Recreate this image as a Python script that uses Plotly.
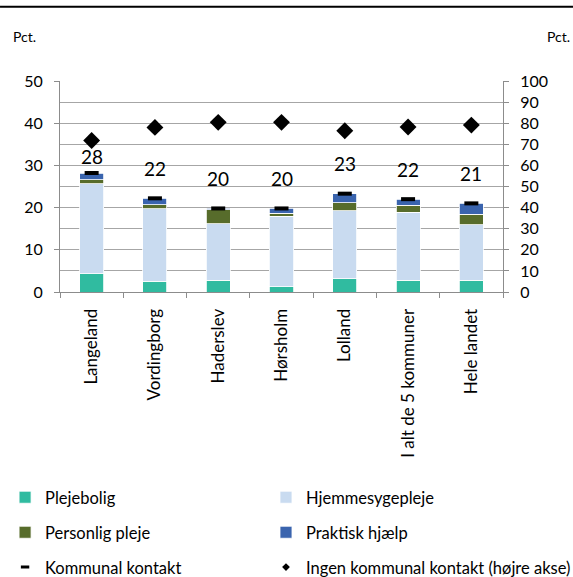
import plotly.graph_objects as go

# Municipalities and country totals
categories = ["Langeland", "Vordingborg", "Haderslev", "Hørsholm", "Lolland",
              "I alt de 5 kommuner", "Hele landet"]

# Stacked components of municipal contact (pct., left axis)
plejebolig = [4.3, 2.5, 2.75, 1.3, 3.1, 2.75, 2.75]
hjemmesygepleje = [21.3, 17.2, 13.45, 16.6, 16.2, 16.15, 13.15]
personlig_pleje = [1.0, 1.0, 3.3, 0.8, 1.8, 1.6, 2.5]
praktisk_hjaelp = [1.6, 1.5, 0.3, 1.1, 2.2, 1.5, 2.6]

# Total municipal contact (pct., left axis) and its rounded labels
kommunal_kontakt = [28.2, 22.2, 19.8, 19.8, 23.3, 22.0, 21.0]

# No municipal contact (pct., right axis)
ingen_kontakt = [71.8, 78.0, 80.4, 80.4, 76.4, 78.2, 79.1]

FONT = "Lato"
AXIS_GREY = "#8c8c8c"
GRID_GREY = "#a6a6a6"

# Legend grid: two columns, three rows (paper coordinates)
COL_X = [-0.124, 0.465]
ROW_Y = [-0.974, -1.140, -1.305]

fig = go.Figure()

bar_series = [
    ("Plejebolig", plejebolig, "#30BBA0", "legend"),
    ("Hjemmesygepleje", hjemmesygepleje, "#C9DBF0", "legend2"),
    ("Personlig pleje", personlig_pleje, "#576C2B", "legend3"),
    ("Praktisk hjælp", praktisk_hjaelp, "#3A64AE", "legend4"),
]
for name, vals, color, leg in bar_series:
    fig.add_trace(go.Bar(
        x=categories, y=vals, name=name, legend=leg,
        marker=dict(color=color, line=dict(color="white", width=0.8)),
        width=0.38, yaxis="y",
    ))

fig.add_trace(go.Scatter(
    x=categories, y=kommunal_kontakt, name="Kommunal kontakt",
    mode="markers", yaxis="y", showlegend=False,
    marker=dict(symbol="line-ew", size=10, color="black",
                line=dict(color="black", width=4)),
))

fig.add_trace(go.Scatter(
    x=categories, y=ingen_kontakt, name="Ingen kommunal kontakt (højre akse)",
    mode="markers", yaxis="y2", showlegend=False,
    marker=dict(symbol="diamond", size=13, color="black"),
))

# Legend keys for the two marker series, drawn smaller than the plotted marks
fig.add_trace(go.Scatter(
    x=[None], y=[None], name="Kommunal kontakt", legend="legend5",
    mode="markers", yaxis="y",
    marker=dict(symbol="line-ew", size=6, color="black",
                line=dict(color="black", width=3)),
))
fig.add_trace(go.Scatter(
    x=[None], y=[None], name="Ingen kommunal kontakt (højre akse)",
    legend="legend6", mode="markers", yaxis="y2",
    marker=dict(symbol="diamond", size=6, color="black"),
))

# Rounded value labels above each total
for i, (cat, v) in enumerate(zip(categories, kommunal_kontakt)):
    fig.add_annotation(
        x=cat, y=v, xref="x", yref="y", text=f"{round(v):d}",
        showarrow=False, yshift=17 if i == 0 else 30,
        font=dict(family=FONT, size=19, color="black"),
    )

# Unit labels above both axes
fig.add_annotation(x=-0.111, y=1.21, xref="paper", yref="paper", text="Pct.",
                   showarrow=False, xanchor="left", yanchor="middle",
                   font=dict(family=FONT, size=14, color="black"))
fig.add_annotation(x=1.155, y=1.21, xref="paper", yref="paper", text="Pct.",
                   showarrow=False, xanchor="right", yanchor="middle",
                   font=dict(family=FONT, size=14, color="black"))

# Rule across the top of the figure
fig.add_shape(type="line", xref="paper", yref="paper",
              x0=-0.1354, x1=1.158, y0=1.352, y1=1.352,
              line=dict(color="black", width=2))


def legend_box(col, row):
    return dict(
        x=COL_X[col], y=ROW_Y[row], xanchor="left", yanchor="middle",
        orientation="v", font=dict(family=FONT, size=16.5, color="black"),
        bgcolor="rgba(0,0,0,0)", itemclick=False, itemdoubleclick=False,
    )


fig.update_layout(
    width=573, height=577,
    margin=dict(l=60, r=70, t=81, b=285, autoexpand=False),
    paper_bgcolor="white", plot_bgcolor="white",
    barmode="stack", bargap=0.62,
    font=dict(family=FONT, size=16, color="black"),
    showlegend=True,
    legend=legend_box(0, 0),
    legend2=legend_box(1, 0),
    legend3=legend_box(0, 1),
    legend4=legend_box(1, 1),
    legend5=legend_box(0, 2),
    legend6=legend_box(1, 2),
    xaxis=dict(
        type="category", tickangle=-90, tickson="boundaries",
        ticks="outside", ticklen=5, tickcolor=AXIS_GREY,
        showline=True, linecolor=AXIS_GREY, linewidth=1,
        showgrid=False, ticklabelstandoff=9,
        tickfont=dict(family=FONT, size=17, color="black"),
    ),
    yaxis=dict(
        range=[0, 50], tick0=0, dtick=10, ticks="outside", ticklen=5,
        tickcolor=AXIS_GREY, showline=True, linecolor=AXIS_GREY, linewidth=1,
        showgrid=False, zeroline=False, ticklabelstandoff=8,
        tickfont=dict(family=FONT, size=16, color="black"),
    ),
    yaxis2=dict(
        range=[0, 100], tick0=0, dtick=10, overlaying="y", side="right",
        ticks="outside", ticklen=5, tickcolor=AXIS_GREY,
        showline=True, linecolor=AXIS_GREY, linewidth=1,
        showgrid=True, gridcolor=GRID_GREY, gridwidth=1, zeroline=False,
        ticklabelstandoff=8, layer="below traces",
        tickfont=dict(family=FONT, size=16, color="black"),
    ),
)

fig.write_html("out.html")
